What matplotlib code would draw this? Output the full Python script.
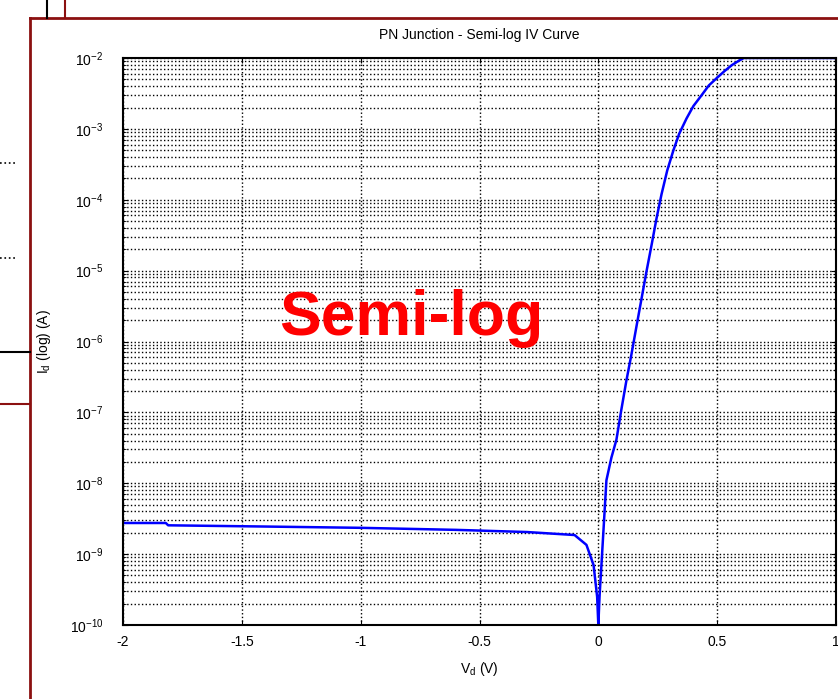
import numpy as np
import matplotlib.pyplot as plt
from matplotlib.lines import Line2D

# Spannung (V) und Betrag des Diodenstroms (A)
v_d = [-2.0, -1.82, -1.81, -1.4, -1.0, -0.6, -0.3, -0.1, -0.05, -0.02, -0.005,
       0.0, 0.005, 0.013, 0.034, 0.055, 0.076, 0.097, 0.118, 0.139, 0.16,
       0.181, 0.202, 0.224, 0.245, 0.266, 0.29, 0.316, 0.34, 0.371, 0.40,
       0.435, 0.465, 0.498, 0.53, 0.561, 0.59, 0.612, 0.62, 0.8, 1.0]
i_d = [2.75e-9, 2.75e-9, 2.55e-9, 2.45e-9, 2.35e-9, 2.2e-9, 2.05e-9, 1.86e-9, 1.35e-9, 7e-10, 2.5e-10,
       1e-10, 2.5e-10, 7e-10, 1.1e-8, 2.3e-8, 4.1e-8, 1.1e-7, 2.8e-7, 6.5e-7, 1.6e-6,
       3.9e-6, 9.5e-6, 2.3e-5, 5.5e-5, 1.2e-4, 2.6e-4, 5.0e-4, 8.5e-4, 1.4e-3, 2.1e-3,
       3.0e-3, 4.1e-3, 5.2e-3, 6.5e-3, 7.9e-3, 9.1e-3, 1e-2, 1e-2, 1e-2, 1e-2]

x_ticks = [-2, -1.5, -1, -0.5, 0, 0.5, 1]
x_labels = ["-2", "-1.5", "-1", "-0.5", "0", "0.5", "1"]

plt.rcParams['font.family'] = ['Liberation Sans', 'DejaVu Sans']
plt.rcParams['mathtext.default'] = 'regular'

fig = plt.figure(figsize=(8.38, 6.99), dpi=100)
W, H = 838, 699

# Rahmen im Hintergrund (Folien-Screenshot)
rot = '#8b1010'
def linie(x0, y0, x1, y1, farbe, lw=2.0, ls='-'):
    fig.add_artist(Line2D([x0 / W, x1 / W], [1 - y0 / H, 1 - y1 / H],
                          color=farbe, lw=lw, ls=ls, transform=fig.transFigure))

linie(30, 18, 838, 18, rot)
linie(30, 18, 30, 699, rot)
linie(47, 0, 47, 18, 'black', 1.5)
linie(65, 0, 65, 18, rot, 1.5)
linie(0, 352, 30, 352, 'black', 1.5)
linie(0, 404, 30, 404, rot, 1.5)
linie(0, 163, 15, 163, 'black', 1.2, ':')
linie(0, 258, 15, 258, 'black', 1.2, ':')

ax = fig.add_axes([123 / W, 1 - 625 / H, (836 - 123) / W, (625 - 58) / H])
ax.semilogy(v_d, i_d, color='#0000ff', lw=1.8)
ax.set_xlim(-2, 1)
ax.set_ylim(1e-10, 1e-2)
ax.set_xticks(x_ticks)
ax.set_xticklabels(x_labels)
ax.grid(True, which='major', axis='x', ls=':', color='black', lw=1.0)
ax.grid(True, which='both', axis='y', ls=':', color='black', lw=1.0)
ax.tick_params(which='both', direction='in', top=True, right=True, labelsize=10)
ax.tick_params(axis='y', which='major', pad=14)
ax.tick_params(axis='x', which='major', pad=7)
for s in ax.spines.values():
    s.set_linewidth(1.5)

ax.set_title("PN Junction - Semi-log IV Curve", fontsize=10, pad=14)
ax.set_xlabel("V$_d$ (V)", fontsize=10, labelpad=8)
ax.set_ylabel("I$_d$ (log) (A)", fontsize=10, labelpad=12)

ax.text(0.405, 0.54, "Semi-log", transform=ax.transAxes, color='red',
        fontsize=45, fontweight='bold', ha='center', va='center')

plt.savefig("out.png", dpi=100)
